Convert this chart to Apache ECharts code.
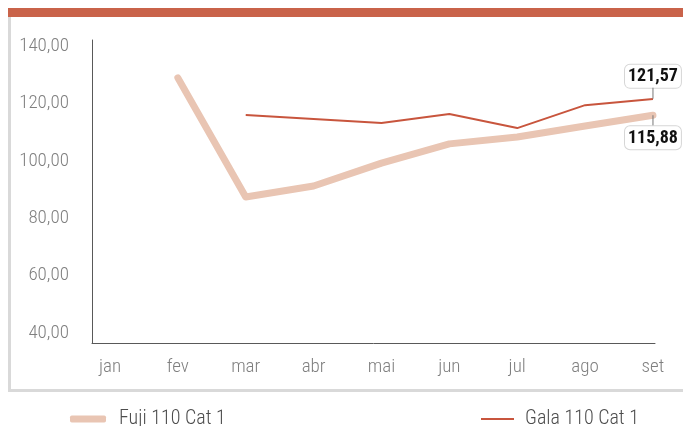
<!DOCTYPE html>
<html>
<head>
<meta charset="utf-8">
<script src="https://cdn.jsdelivr.net/npm/echarts@6/dist/echarts.min.js"></script>
<style>
  html, body { margin: 0; padding: 0; background: #fff; }
  #chart { width: 683px; height: 426px; }
</style>
</head>
<body>
<div id="chart"></div>
<script>
// meses (eixo x)
var months = ['jan', 'fev', 'mar', 'abr', 'mai', 'jun', 'jul', 'ago', 'set'];
// preços por mês, null = sem cotação
var fuji = [null, 128.9, 87.4, 91.2, 99.2, 105.9, 108.3, 112.1, 115.88];
var gala = [null, null, 116.0, 114.6, 113.2, 116.3, 111.4, 119.4, 121.57];
var yTicks = [40, 60, 80, 100, 120, 140];

var FONT = '"Roboto Condensed", sans-serif';

function fmt(v) {
  return v.toFixed(2).replace('.', ',');
}

// monta pares [indice, valor]; rótulo só no último ponto
function toData(arr, above) {
  var out = [];
  for (var i = 0; i < arr.length; i++) {
    if (arr[i] == null) continue;
    var item = { value: [i, arr[i]] };
    if (i == arr.length - 1) {
      item.label = {
        show: true,
        position: above ? 'top' : 'bottom',
        distance: 0,
        formatter: above ? '{box|' + fmt(arr[i]) + '}\n{ln|}' : '{ln|}\n{box|' + fmt(arr[i]) + '}',
        rich: {
          box: {
            fontFamily: FONT, fontSize: 18, fontWeight: 'bold', color: '#111',
            backgroundColor: '#fff', borderColor: '#d6d6d6', borderWidth: 1,
            borderRadius: 5, padding: [3, 3, 2, 3], align: 'center'
          },
          ln: { width: 1, height: 11, backgroundColor: '#777', align: 'center' }
        }
      };
    }
    out.push(item);
  }
  return out;
}

var chart = echarts.init(document.getElementById('chart'));

var option = {
  backgroundColor: '#fff',
  animation: false,
  graphic: [
    { type: 'rect', shape: { x: 8, y: 8, width: 675, height: 9 }, style: { fill: '#C9634A' } },
    { type: 'rect', shape: { x: 8, y: 17, width: 3, height: 375 }, style: { fill: '#D9D9D9' } },
    { type: 'rect', shape: { x: 8, y: 389, width: 675, height: 3 }, style: { fill: '#D9D9D9' } }
  ],
  grid: { left: 92, top: 40, width: 563, height: 303, containLabel: false },
  legend: [{
    left: 65, top: 404,
    data: [{ name: 'Fuji 110 Cat 1', icon: 'roundRect' }],
    itemWidth: 36, itemHeight: 7,
    textStyle: { fontFamily: FONT, fontSize: 20, fontWeight: 300, color: '#4d4d4d', padding: [0, 0, 0, 8] }
  }, {
    left: 476, top: 404,
    data: [{ name: 'Gala 110 Cat 1', icon: 'rect' }],
    itemWidth: 33, itemHeight: 2,
    textStyle: { fontFamily: FONT, fontSize: 20, fontWeight: 300, color: '#4d4d4d', padding: [0, 0, 0, 6] }
  }],
  xAxis: {
    type: 'value',
    min: -0.265,
    max: 8.03,
    splitLine: { show: false },
    axisTick: { show: false },
    axisLine: { show: true, onZero: false, lineStyle: { color: '#595959', width: 1 } },
    axisLabel: {
      customValues: [0, 1, 2, 3, 4, 5, 6, 7, 8],
      formatter: function (v) { return months[Math.round(v)]; },
      margin: 15,
      fontFamily: FONT, fontSize: 19, fontWeight: 300, color: '#7f7f7f'
    }
  },
  yAxis: {
    type: 'value',
    min: 36.5,
    max: 142.1,
    splitLine: { show: false },
    axisTick: { show: false },
    axisLine: { show: true, onZero: false, lineStyle: { color: '#595959', width: 1 } },
    axisLabel: {
      customValues: yTicks,
      formatter: function (v) { return fmt(v); },
      margin: 23,
      fontFamily: FONT, fontSize: 19, fontWeight: 300, color: '#7f7f7f'
    }
  },
  series: [{
    name: 'Fuji 110 Cat 1',
    type: 'line',
    data: toData(fuji, false),
    symbol: 'circle',
    symbolSize: 0.1,
    itemStyle: { color: '#E9C5B3' },
    lineStyle: { color: '#E9C5B3', width: 7, cap: 'round', join: 'round' },
    z: 2
  }, {
    name: 'Gala 110 Cat 1',
    type: 'line',
    data: toData(gala, true),
    symbol: 'circle',
    symbolSize: 0.1,
    itemStyle: { color: '#C8553D' },
    lineStyle: { color: '#C8553D', width: 2 },
    z: 3
  }]
};

chart.setOption(option);
</script>
</body>
</html>
